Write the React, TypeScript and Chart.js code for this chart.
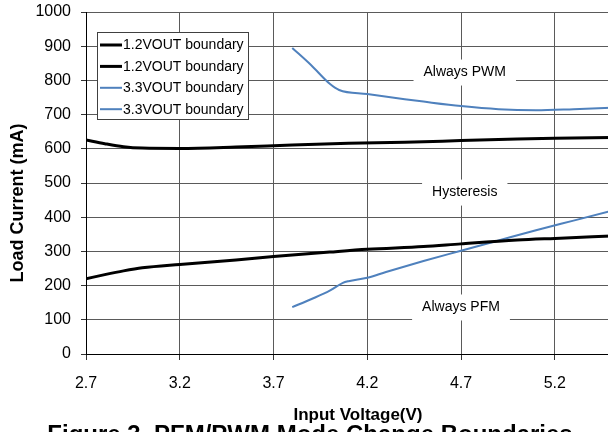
import React, { useEffect, useRef } from "react";
import { Chart, registerables } from "chart.js";

Chart.register(...registerables);

const xTicks = [2.7, 3.2, 3.7, 4.2, 4.7, 5.2];

const v12UpperX = [2.7, 2.8, 2.9, 3.0, 3.2, 3.5, 3.8, 4.1, 4.4, 4.7, 5.0, 5.2, 5.5];
const v12UpperY = [626, 615, 606, 602, 601, 605, 611, 616, 619, 624, 629, 631, 633];

const v12LowerX = [2.7, 2.8, 2.9, 3.0, 3.2, 3.5, 3.7, 4.0, 4.2, 4.5, 4.7, 5.0, 5.2, 5.5];
const v12LowerY = [220, 232, 243, 252, 262, 275, 285, 298, 306, 314, 322, 333, 338, 345];

const v33UpperX = [3.8, 3.9, 4.0, 4.05, 4.2, 4.4, 4.5, 4.7, 4.9, 5.1, 5.3, 5.5];
const v33UpperY = [895, 845, 790, 772, 760, 745, 738, 725, 716, 713, 716, 720];

const v33LowerX = [3.8, 3.9, 4.0, 4.07, 4.1, 4.2, 4.3, 4.5, 4.7, 4.9, 5.1, 5.3, 5.5];
const v33LowerY = [137, 160, 185, 208, 213, 223, 240, 272, 302, 332, 362, 390, 418];

const legendLabels = ["1.2VOUT boundary", "1.2VOUT boundary", "3.3VOUT boundary", "3.3VOUT boundary"];

const regionLabels = ["Always PWM", "Hysteresis", "Always PFM"];
const regionX = [4.72, 4.72, 4.7];
const regionY = [823, 472, 136];

const FONT = "'Liberation Sans', Arial, sans-serif";
const BLACK = "#000000";
const BLUE = "#4f81bd";

const pts = (xs: number[], ys: number[]) => xs.map((x, i) => ({ x, y: ys[i] }));

const overlayPlugin = {
  id: "overlay",
  beforeDatasetsDraw(chart: any) {
    const ctx = chart.ctx;
    const xs = chart.scales.x;
    const ys = chart.scales.y;
    ctx.save();
    ctx.font = `14px ${FONT}`;
    ctx.textAlign = "center";
    ctx.textBaseline = "middle";
    regionLabels.forEach((t, i) => {
      const cx = xs.getPixelForValue(regionX[i]);
      const cy = ys.getPixelForValue(regionY[i]);
      const w = ctx.measureText(t).width;
      ctx.fillStyle = "#ffffff";
      ctx.fillRect(cx - w / 2 - 10, cy - 13, w + 20, 26);
      ctx.fillStyle = "#000000";
      ctx.fillText(t, cx, cy);
    });
    ctx.restore();
  },
  afterDraw(chart: any) {
    const ctx = chart.ctx;
    ctx.save();
    // legend box
    const lx = 97.5, ly = 32.5, lw = 151, lh = 87;
    ctx.fillStyle = "#ffffff";
    ctx.fillRect(lx, ly, lw, lh);
    ctx.strokeStyle = "#404040";
    ctx.lineWidth = 1;
    ctx.strokeRect(lx, ly, lw, lh);
    ctx.font = `14px ${FONT}`;
    ctx.textAlign = "left";
    ctx.textBaseline = "middle";
    chart.data.datasets.forEach((ds: any, i: number) => {
      const y = 45 + i * 21.4;
      ctx.strokeStyle = ds.borderColor;
      ctx.lineWidth = ds.borderWidth;
      ctx.beginPath();
      ctx.moveTo(100, y);
      ctx.lineTo(122, y);
      ctx.stroke();
      ctx.fillStyle = "#000000";
      ctx.fillText(legendLabels[i], 123, y + 0.5);
    });
    // axis titles
    ctx.font = `bold 17px ${FONT}`;
    ctx.textAlign = "center";
    ctx.textBaseline = "middle";
    ctx.fillText("Input Voltage(V)", 358, 415);
    ctx.save();
    ctx.translate(18, 203);
    ctx.rotate(-Math.PI / 2);
    ctx.font = `bold 18px ${FONT}`;
    ctx.fillText("Load Current (mA)", 0, 0);
    ctx.restore();
    // caption (cut off at bottom)
    ctx.font = `bold 24px ${FONT}`;
    ctx.textAlign = "center";
    ctx.textBaseline = "alphabetic";
    ctx.fillText("Figure 3. PFM/PWM Mode Change Boundaries", 310, 442);
    ctx.restore();
  },
};

export default function App() {
  const ref = useRef<HTMLCanvasElement | null>(null);
  useEffect(() => {
    document.body.style.margin = "0";
    const canvas = ref.current!;
    const chart = new Chart(canvas, {
      type: "line",
      data: {
        datasets: [
          { label: legendLabels[0], data: pts(v12LowerX, v12LowerY), borderColor: BLACK, borderWidth: 3 },
          { label: legendLabels[1], data: pts(v12UpperX, v12UpperY), borderColor: BLACK, borderWidth: 3 },
          { label: legendLabels[2], data: pts(v33LowerX, v33LowerY), borderColor: BLUE, borderWidth: 2 },
          { label: legendLabels[3], data: pts(v33UpperX, v33UpperY), borderColor: BLUE, borderWidth: 2 },
        ],
      },
      options: {
        animation: false,
        responsive: false,
        maintainAspectRatio: false,
        events: [],
        elements: {
          point: { radius: 0 },
          line: { cubicInterpolationMode: "monotone", fill: false },
        },
        layout: { padding: { top: 12, right: 5, left: 0, bottom: 0 } },
        plugins: { legend: { display: false }, tooltip: { enabled: false }, title: { display: false } },
        scales: {
          x: {
            type: "linear",
            min: 2.7,
            max: 5.5,
            afterBuildTicks: (scale: any) => {
              scale.ticks = xTicks.map((v) => ({ value: v }));
            },
            afterFit: (scale: any) => {
              scale.height = 78;
              scale.paddingLeft = 0;
              scale.paddingRight = 0;
            },
            grid: { color: "#5a5a5a", lineWidth: 1, tickLength: 6, tickColor: "#333333" },
            border: { display: true, color: "#000000", width: 1 },
            ticks: {
              color: "#000000",
              font: { family: FONT, size: 16 },
              padding: 14,
              maxRotation: 0,
              autoSkip: false,
              callback: (v: any) => Number(v).toFixed(1),
            },
          },
          y: {
            type: "linear",
            min: 0,
            max: 1000,
            afterFit: (scale: any) => {
              scale.width = 86;
              scale.paddingTop = 0;
              scale.paddingBottom = 0;
            },
            grid: { color: "#5a5a5a", lineWidth: 1, tickLength: 5, tickColor: "#333333" },
            border: { display: true, color: "#000000", width: 1 },
            ticks: {
              stepSize: 100,
              color: "#000000",
              font: { family: FONT, size: 16 },
              padding: 10,
              callback: (v: any) => String(v),
            },
          },
        },
      },
      plugins: [overlayPlugin],
    } as any);
    return () => chart.destroy();
  }, []);
  return (
    <div style={{ position: "absolute", left: 0, top: 0, width: 608, height: 432, overflow: "hidden", background: "#fff" }}>
      <canvas ref={ref} width={616} height={432} style={{ width: 616, height: 432, display: "block" }} />
    </div>
  );
}
